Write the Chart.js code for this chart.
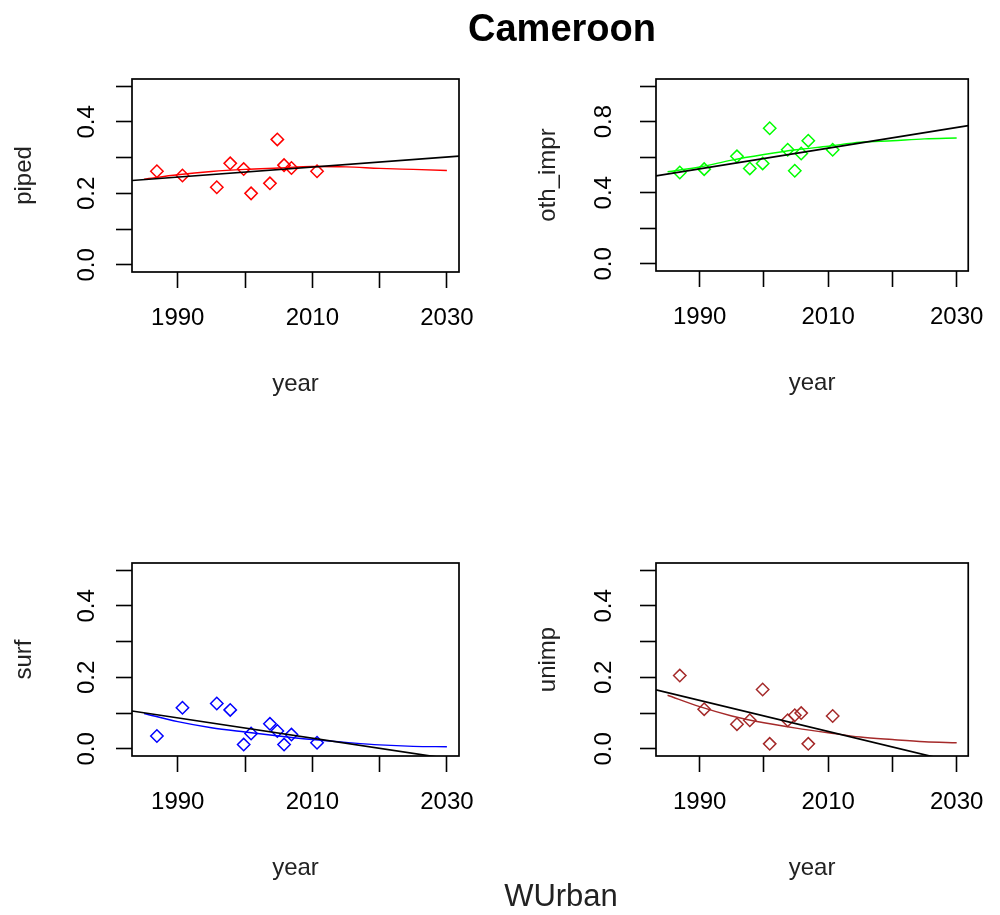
<!DOCTYPE html>
<html>
<head>
<meta charset="utf-8">
<script src="https://cdn.jsdelivr.net/npm/chart.js@4.4.1/dist/chart.umd.min.js"></script>
<style>
  body { margin: 0; background: #fff; }
  #wrap { position: relative; width: 1000px; height: 915px; overflow: hidden;
          font-family: "Liberation Sans", Arial, sans-serif; }
  canvas { position: absolute; }
  #title { position: absolute; left: 412px; width: 300px; top: 9px; text-align: center;
           font-weight: bold; font-size: 38px; line-height: 38px; color: #000; z-index: 2; }
  #outer { position: absolute; left: 461px; width: 200px; top: 880px; text-align: center;
           font-size: 31px; line-height: 31px; color: #222; z-index: 2; }
</style>
</head>
<body>
<div id="wrap">
  <div id="title">Cameroon</div>
  <canvas id="p1" width="500" height="450" style="left:0;top:0"></canvas>
  <canvas id="p2" width="500" height="450" style="left:500px;top:0"></canvas>
  <canvas id="p3" width="500" height="450" style="left:0;top:460px"></canvas>
  <canvas id="p4" width="500" height="450" style="left:500px;top:460px"></canvas>
  <div id="outer">WUrban</div>
</div>
<script>
// survey years (points)
const years = [1986.9, 1990.7, 1995.8, 1997.8, 1999.8, 2000.9, 2003.7, 2004.8, 2005.8, 2006.9, 2010.7];
const piped = [0.262, 0.250, 0.217, 0.284, 0.268, 0.200, 0.228, 0.351, 0.279, 0.271, 0.262];
const othImpr = [0.514, 0.533, 0.605, 0.537, 0.565, 0.763, 0.642, 0.524, 0.621, 0.693, 0.642];
const surf = [0.036, 0.115, 0.127, 0.109, 0.012, 0.043, 0.070, 0.050, 0.012, 0.040, 0.017];
const unimp = [0.205, 0.111, 0.069, 0.080, 0.166, 0.014, 0.080, 0.094, 0.100, 0.014, 0.092];

// fitted curves (coloured)
const fitYears = [1985, 1990, 1995, 2000, 2005, 2010, 2015, 2020, 2025, 2030];
const pipedFit = [0.240, 0.252, 0.261, 0.267, 0.271, 0.275, 0.274, 0.270, 0.267, 0.264];
const othImprFit = [0.518, 0.545, 0.584, 0.615, 0.642, 0.662, 0.684, 0.693, 0.703, 0.708];
const surfFit = [0.099, 0.076, 0.059, 0.047, 0.036, 0.026, 0.018, 0.011, 0.007, 0.006];
const unimpFit = [0.150, 0.118, 0.092, 0.073, 0.058, 0.045, 0.033, 0.026, 0.020, 0.017];

// linear trends (black)
const trendYears = [1983.2, 2031.8];
const pipedTrend = [0.236, 0.304];
const othImprTrend = [0.495, 0.778];
const surfTrend = [0.106, -0.032];
const unimpTrend = [0.165, -0.046];

// axes
const xTicks = [1990, 2000, 2010, 2020, 2030];
const xTickLabels = ["1990", "", "2010", "", "2030"];
const yTicksSmall = [0, 0.1, 0.2, 0.3, 0.4, 0.5];
const yLabelsSmall = ["0.0", "", "0.2", "", "0.4", ""];
const yTicksBig = [0, 0.2, 0.4, 0.6, 0.8, 1.0];
const yLabelsBig = ["0.0", "", "0.4", "", "0.8", ""];

const FONT = '"Liberation Sans", Arial, sans-serif';

function xy(xs, ys) {
  return xs.map(function (x, i) { return { x: x, y: ys[i] }; });
}

// box, rotated y tick labels and axis titles, R style
const rFrame = {
  id: "rFrame",
  afterDraw: function (chart) {
    const o = chart.options.plugins.rFrame;
    const a = chart.chartArea;
    const ctx = chart.ctx;
    ctx.save();
    ctx.strokeStyle = "#000";
    ctx.lineWidth = 1.7;
    ctx.strokeRect(a.left, a.top, a.right - a.left, a.bottom - a.top);

    ctx.fillStyle = "#000";
    ctx.font = "24px " + FONT;
    ctx.textAlign = "center";
    ctx.textBaseline = "middle";
    const ys = chart.scales.y;
    o.yTicks.forEach(function (v, i) {
      if (!o.yLabels[i]) return;
      ctx.save();
      ctx.translate(a.left - o.tickOff, ys.getPixelForValue(v));
      ctx.rotate(-Math.PI / 2);
      ctx.fillText(o.yLabels[i], 0, 0);
      ctx.restore();
    });

    ctx.fillStyle = "#222";
    ctx.save();
    ctx.translate(a.left - 108, (a.top + a.bottom) / 2);
    ctx.rotate(-Math.PI / 2);
    ctx.fillText(o.yTitle, 0, 0);
    ctx.restore();
    ctx.fillText("year", (a.left + a.right) / 2, a.bottom + 112);
    ctx.restore();
  }
};

function panel(id, yTitle, pts, fit, trend, color, yTicks, yLabels, yMin, yMax, pad, tickOff) {
  return new Chart(document.getElementById(id), {
    type: "line",
    data: {
      datasets: [
        {
          data: xy(trendYears, trend),
          borderColor: "#000",
          borderWidth: 1.7,
          pointRadius: 0,
          fill: false
        },
        {
          data: xy(fitYears, fit),
          borderColor: color,
          borderWidth: 1.4,
          pointRadius: 0,
          cubicInterpolationMode: "monotone",
          fill: false
        },
        {
          data: xy(years, pts),
          showLine: false,
          pointStyle: "rectRot",
          pointRadius: 6.2,
          pointBorderWidth: 1.5,
          pointBorderColor: color,
          pointBackgroundColor: "rgba(0,0,0,0)"
        }
      ]
    },
    options: {
      responsive: false,
      animation: false,
      layout: { padding: pad },
      plugins: {
        legend: { display: false },
        tooltip: { enabled: false },
        rFrame: { yTitle: yTitle, yTicks: yTicks, yLabels: yLabels, tickOff: tickOff }
      },
      scales: {
        x: {
          type: "linear",
          min: 1983.2,
          max: 2031.8,
          afterBuildTicks: function (s) { s.ticks = xTicks.map(function (v) { return { value: v }; }); },
          afterFit: function (s) { s.height = 80; },
          ticks: {
            autoSkip: false,
            maxRotation: 0,
            padding: 16,
            color: "#000",
            font: { size: 24, family: FONT },
            callback: function (v, i) { return xTickLabels[i]; }
          },
          grid: { drawOnChartArea: false, tickLength: 16, tickColor: "#000", tickWidth: 1.6 },
          border: { display: false }
        },
        y: {
          type: "linear",
          min: yMin,
          max: yMax,
          afterBuildTicks: function (s) { s.ticks = yTicks.map(function (v) { return { value: v }; }); },
          afterFit: function (s) { s.width = 16; },
          ticks: { display: false },
          grid: { drawOnChartArea: false, tickLength: 16, tickColor: "#000", tickWidth: 1.6 },
          border: { display: false }
        }
      }
    },
    plugins: [rFrame]
  });
}

panel("p1", "piped", piped, pipedFit, pipedTrend, "#ff0000", yTicksSmall, yLabelsSmall, -0.02, 0.52,
  { left: 116, right: 41, top: 79, bottom: 98 }, 45);
panel("p2", "oth_impr", othImpr, othImprFit, othImprTrend, "#00ff00", yTicksBig, yLabelsBig, -0.04, 1.04,
  { left: 140, right: 17, top: 79, bottom: 99 }, 52);
panel("p3", "surf", surf, surfFit, surfTrend, "#0000ff", yTicksSmall, yLabelsSmall, -0.02, 0.52,
  { left: 116, right: 41, top: 103, bottom: 74 }, 45);
panel("p4", "unimp", unimp, unimpFit, unimpTrend, "#a52a2a", yTicksSmall, yLabelsSmall, -0.02, 0.52,
  { left: 140, right: 17, top: 103, bottom: 74 }, 52);
</script>
</body>
</html>
